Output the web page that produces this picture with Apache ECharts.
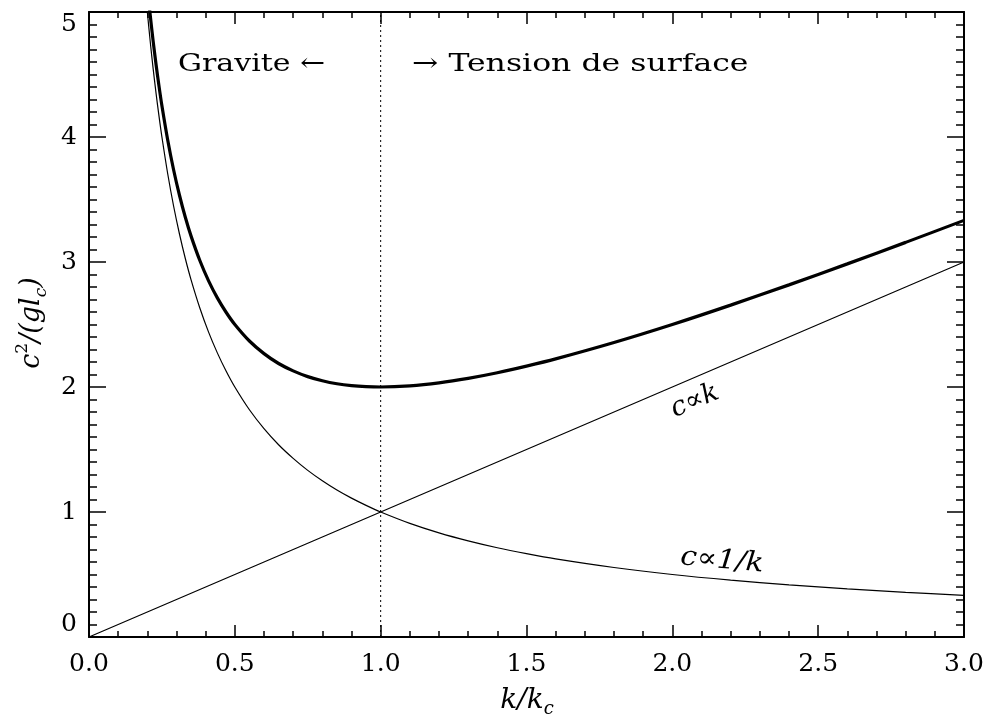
<!DOCTYPE html>
<html>
<head>
<meta charset="utf-8">
<script src="https://cdn.jsdelivr.net/npm/echarts@6/dist/echarts.min.js"></script>
<style>html,body{margin:0;padding:0;background:#fff;}#c{width:987px;height:719px;}</style>
</head>
<body>
<div id="c"></div>
<script>
// k / k_c sample points
var kValues = [0.20, 0.21, 0.22, 0.23, 0.24, 0.25, 0.27, 0.29, 0.31, 0.33, 0.35, 0.38, 0.41, 0.44, 0.47, 0.50, 0.55, 0.60, 0.65, 0.70, 0.75, 0.80, 0.85, 0.90, 0.95, 1.00, 1.10, 1.20, 1.30, 1.40, 1.50, 1.60, 1.80, 2.00, 2.20, 2.40, 2.60, 2.80, 3.00];
// thin curve c ∝ 1/k
var gravityValues = [5.000, 4.762, 4.545, 4.348, 4.167, 4.000, 3.704, 3.448, 3.226, 3.030, 2.857, 2.632, 2.439, 2.273, 2.128, 2.000, 1.818, 1.667, 1.538, 1.429, 1.333, 1.250, 1.176, 1.111, 1.053, 1.000, 0.909, 0.833, 0.769, 0.714, 0.667, 0.625, 0.556, 0.500, 0.455, 0.417, 0.385, 0.357, 0.333];
// thick curve (total)
var totalValues = [5.200, 4.972, 4.765, 4.578, 4.407, 4.250, 3.974, 3.738, 3.536, 3.360, 3.207, 3.012, 2.849, 2.713, 2.598, 2.500, 2.368, 2.267, 2.188, 2.129, 2.083, 2.050, 2.026, 2.011, 2.003, 2.000, 2.009, 2.033, 2.069, 2.114, 2.167, 2.225, 2.356, 2.500, 2.655, 2.817, 2.985, 3.157, 3.333];
// straight line c ∝ k
var tensionK = [0, 1, 2, 3];
var tensionValues = [0, 1, 2, 3];
// vertical dotted separator
var separatorX = [1, 1];
var separatorY = [0, 5];
var xTicks = [0.0, 0.5, 1.0, 1.5, 2.0, 2.5, 3.0];
var yTicks = [0, 1, 2, 3, 4, 5];

function pairs(xs, ys) { return xs.map(function (x, i) { return [x, ys[i]]; }); }

var FONT = 'DejaVu Serif';
var chart = echarts.init(document.getElementById('c'), null, {renderer: 'canvas'});

function xAxisCfg(pos, showLabel) {
  return {
    type: 'value', position: pos, min: xTicks[0], max: xTicks[xTicks.length - 1], interval: 0.5,
    axisLine: {show: true, onZero: false, lineStyle: {color: '#000', width: 2}},
    axisTick: {show: true, inside: true, length: 12, lineStyle: {color: '#000', width: 1.5}},
    minorTick: {show: true, splitNumber: 5, length: 6, lineStyle: {color: '#000', width: 1.5}},
    splitLine: {show: false}, minorSplitLine: {show: false},
    axisLabel: {show: showLabel, margin: 15, color: '#000', fontFamily: FONT, fontSize: 25,
      formatter: function (v) { return v.toFixed(1); }}
  };
}
function yAxisCfg(pos, showLabel) {
  return {
    type: 'value', position: pos, min: yTicks[0], max: yTicks[yTicks.length - 1], interval: 1,
    axisLine: {show: true, onZero: false, lineStyle: {color: '#000', width: 2}},
    axisTick: {show: true, inside: true, length: 17, lineStyle: {color: '#000', width: 1.5}},
    minorTick: {show: true, splitNumber: 10, length: 8, lineStyle: {color: '#000', width: 1.5}},
    splitLine: {show: false}, minorSplitLine: {show: false},
    axisLabel: {show: showLabel, margin: 12, color: '#000', fontFamily: FONT, fontSize: 25,
      verticalAlignMinLabel: 'bottom', verticalAlignMaxLabel: 'top',
      formatter: function (v) { return String(v); }}
  };
}

var option = {
  animation: false,
  backgroundColor: '#fff',
  grid: {left: 89, right: 23, top: 12, bottom: 82, containLabel: false},
  xAxis: [xAxisCfg('bottom', true), xAxisCfg('top', false)],
  yAxis: [yAxisCfg('left', true), yAxisCfg('right', false)],
  series: [
    {type: 'line', data: pairs(separatorX, separatorY), showSymbol: false, silent: true,
      lineStyle: {color: '#000', width: 1, type: [2, 3]}},
    {type: 'line', data: pairs(tensionK, tensionValues), showSymbol: false, silent: true,
      lineStyle: {color: '#000', width: 1.2}},
    {type: 'line', data: pairs(kValues, gravityValues), showSymbol: false, smooth: 0.3, silent: true, clip: true,
      lineStyle: {color: '#000', width: 1.2}},
    {type: 'line', data: pairs(kValues, totalValues), showSymbol: false, smooth: 0.3, silent: true, clip: true,
      lineStyle: {color: '#000', width: 3.2}}
  ],
  graphic: [
    {type: 'text', x: 178, y: 64, scaleX: 1.2, style: {text: 'Gravite ←', font: '25px "DejaVu Serif"', fill: '#000', verticalAlign: 'middle', align: 'left'}},
    {type: 'text', x: 412, y: 64, scaleX: 1.26, style: {text: '→ Tension de surface', font: '25px "DejaVu Serif"', fill: '#000', verticalAlign: 'middle', align: 'left'}},
    {type: 'text', x: 695, y: 401, rotation: 23 * Math.PI / 180, style: {text: 'c∝k', font: 'italic 27px "DejaVu Serif"', fill: '#000', align: 'center', verticalAlign: 'middle'}},
    {type: 'text', x: 722, y: 561, rotation: -5 * Math.PI / 180, scaleX: 1.1, style: {text: 'c∝1/k', font: 'italic 27px "DejaVu Serif"', fill: '#000', align: 'center', verticalAlign: 'middle'}},
    {type: 'text', x: 527, y: 701, style: {
      text: '{b|k/k}{s|c}', align: 'center', verticalAlign: 'middle',
      rich: {
        b: {fontFamily: FONT, fontStyle: 'italic', fontSize: 28, fill: '#000', color: '#000', lineHeight: 34, verticalAlign: 'middle'},
        s: {fontFamily: FONT, fontStyle: 'italic', fontSize: 18, fill: '#000', color: '#000', lineHeight: 34, verticalAlign: 'bottom'}
      }}},
    {type: 'text', x: 32, y: 323, rotation: Math.PI / 2, style: {
      text: '{b|c}{p|2}{b|/(gl}{s|c}{b|)}', align: 'center', verticalAlign: 'middle',
      rich: {
        b: {fontFamily: FONT, fontStyle: 'italic', fontSize: 27, fill: '#000', color: '#000', lineHeight: 36, verticalAlign: 'middle'},
        p: {fontFamily: FONT, fontSize: 17, fill: '#000', color: '#000', lineHeight: 36, verticalAlign: 'top'},
        s: {fontFamily: FONT, fontStyle: 'italic', fontSize: 17, fill: '#000', color: '#000', lineHeight: 36, verticalAlign: 'bottom'}
      }}}
  ]
};
chart.setOption(option);
</script>
</body>
</html>
